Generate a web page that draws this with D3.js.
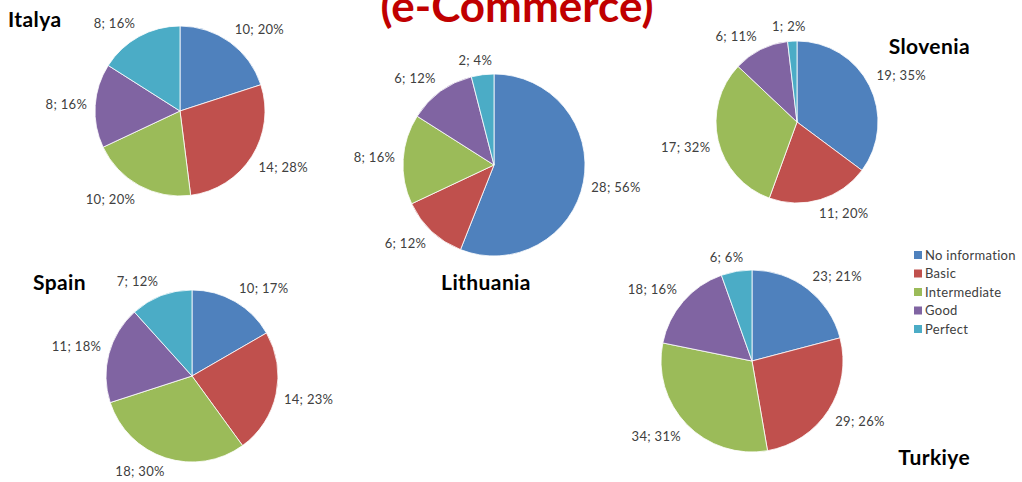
<!DOCTYPE html>
<html>
  <head>
    <meta charset="utf-8">
    <script src="https://d3js.org/d3.v7.min.js"></script>
    <style>
      body{margin:0;background:#fff;}
      svg{display:block;}
    </style>
  </head>
  <body>
    <script>
      // data
      var levels=["No information","Basic","Intermediate","Good","Perfect"];
      var countries=["Italya","Lithuania","Slovenia","Spain","Turkiye"];
      var italya=[10,14,10,8,8];
      var lithuania=[28,6,8,6,2];
      var slovenia=[19,11,17,6,1];
      var spain=[10,14,18,11,7];
      var turkiye=[23,29,34,18,6];
      // percentages as printed on the labels
      var italyaPct=[20,28,20,16,16];
      var lithuaniaPct=[56,12,16,12,4];
      var sloveniaPct=[35,20,32,11,2];
      var spainPct=[17,23,30,18,12];
      var turkiyePct=[21,26,31,16,6];

      var colors=["#4f81bd","#c0504d","#9bbb59","#8064a2","#4bacc6"];

      // where each pie sits
      var layout=[
        {cx:180,cy:111,r:85,tx:8,ty:27,anchor:"start"},
        {cx:494,cy:165,r:91,tx:486,ty:290,anchor:"middle"},
        {cx:797,cy:122,r:81,tx:970,ty:54,anchor:"end"},
        {cx:192,cy:376,r:86,tx:33,ty:290,anchor:"start"},
        {cx:752,cy:361,r:91,tx:970,ty:465,anchor:"end"}
      ];
      var allValues=[italya,lithuania,slovenia,spain,turkiye];
      var allPct=[italyaPct,lithuaniaPct,sloveniaPct,spainPct,turkiyePct];

      var svg=d3.select("body").append("svg")
                .attr("width",1022)
                .attr("height",482);

      svg.append("text")
         .attr("x",517).attr("y",22)
         .attr("text-anchor","middle")
         .attr("font-family","Lato, sans-serif")
         .attr("font-weight","bold")
         .attr("font-size",44)
         .attr("fill","#c00000")
         .attr("textLength",273)
         .attr("lengthAdjust","spacingAndGlyphs")
         .text("(e-Commerce)");

      var pie=d3.pie().sort(null);

      for(var k=0;k<countries.length;k++)
      {
        var L=layout[k];
        var g=svg.append("g").attr("transform","translate("+L.cx+","+L.cy+")");
        var arc=d3.arc().innerRadius(0).outerRadius(L.r);
        var arcs=pie(allValues[k]);

        g.selectAll("path").data(arcs).enter().append("path")
         .attr("d",arc)
         .attr("fill",function(d,i){return colors[i];})
         .attr("stroke","#fff")
         .attr("stroke-width",0.8);

        var pct=allPct[k];
        arcs.forEach(function(d,i){
          var mid=(d.startAngle+d.endAngle)/2;
          var s=Math.sin(mid), c=Math.cos(mid);
          var px=(L.r+8)*s, py=-(L.r+8)*c;
          var t=g.append("text")
                 .attr("font-family","Lato, sans-serif")
                 .attr("font-size",13)
                 .attr("letter-spacing",0.3)
                 .attr("fill","#404040")
                 .attr("text-anchor","middle")
                 .attr("dy","0.35em")
                 .text(d.data+"; "+pct[i]+"%");
          var w=t.node().getComputedTextLength(), h=13;
          var fx=Math.sign(s)*Math.min(1,Math.abs(s)*3);
          var fy=Math.sign(c)*Math.min(1,Math.abs(c)*3);
          t.attr("x",px+fx*w/2).attr("y",py-fy*h/2);
        });

        svg.append("text")
           .attr("x",L.tx).attr("y",L.ty)
           .attr("text-anchor",L.anchor)
           .attr("font-family","Lato, sans-serif")
           .attr("font-weight","bold")
           .attr("font-size",21)
           .attr("letter-spacing",0.4)
           .attr("fill","#000")
           .text(countries[k]);
      }

      var leg=svg.append("g").attr("transform","translate(914,255)");
      levels.forEach(function(name,i){
        leg.append("rect")
           .attr("x",0).attr("y",i*18.5-4)
           .attr("width",8).attr("height",8)
           .attr("fill",colors[i]);
        leg.append("text")
           .attr("x",11).attr("y",i*18.5)
           .attr("dy","0.35em")
           .attr("font-family","Lato, sans-serif")
           .attr("font-size",13)
           .attr("letter-spacing",0.3)
           .attr("fill","#404040")
           .text(name);
      });
    </script>
  </body>
</html>
